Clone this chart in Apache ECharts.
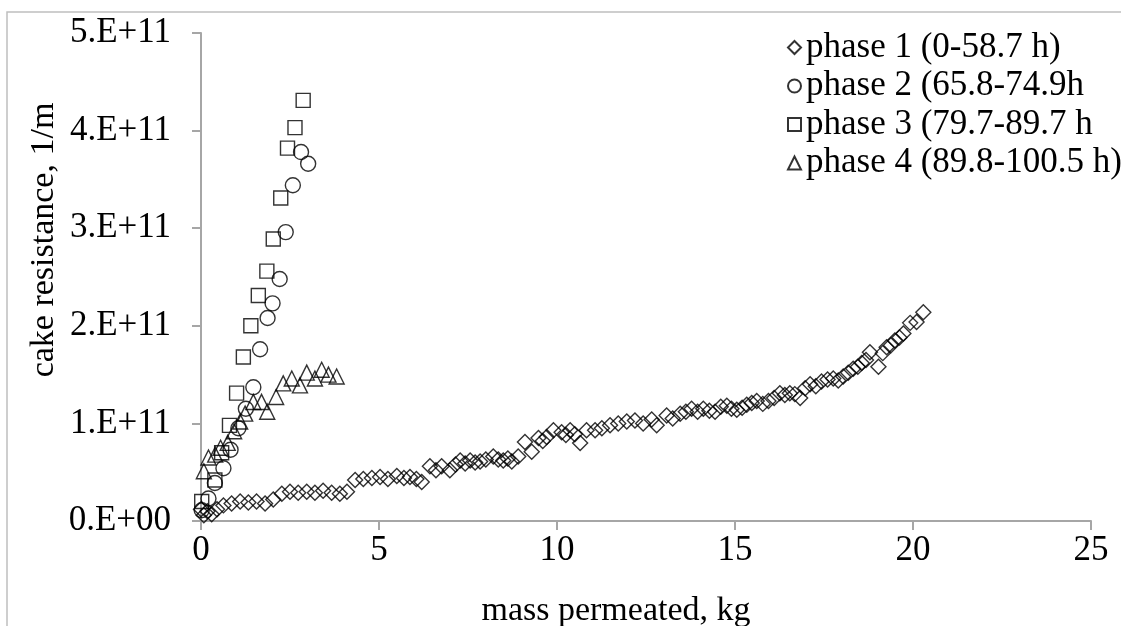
<!DOCTYPE html>
<html>
<head>
<meta charset="utf-8">
<script src="https://cdn.jsdelivr.net/npm/echarts@6/dist/echarts.min.js"></script>
<style>
html,body{margin:0;padding:0;background:#fff;}
#chart{width:1121px;height:626px;}
</style>
</head>
<body>
<div id="chart"></div>
<script>
// Series names
const seriesNames = ['phase 1 (0-58.7 h)', 'phase 2 (65.8-74.9h', 'phase 3 (79.7-89.7 h', 'phase 4 (89.8-100.5 h)'];

// Phase 1 (diamonds): mass permeated (kg)
const phase1X = [0.00,0.08,0.18,0.30,0.45,0.63,0.86,1.10,1.33,1.56,1.80,2.03,2.27,2.50,2.73,2.97,3.20,3.43,3.67,3.90,4.10,4.33,4.56,4.80,5.03,5.25,5.50,5.70,5.87,6.05,6.20,6.43,6.60,6.76,6.99,7.15,7.28,7.42,7.56,7.70,7.84,8.00,8.21,8.35,8.49,8.62,8.73,8.91,9.10,9.29,9.48,9.60,9.71,9.90,10.13,10.25,10.37,10.50,10.65,10.83,11.07,11.26,11.49,11.72,11.96,12.19,12.42,12.66,12.80,13.08,13.25,13.46,13.62,13.78,13.95,14.11,14.28,14.44,14.60,14.77,14.90,15.05,15.20,15.33,15.47,15.61,15.78,15.94,16.10,16.26,16.40,16.54,16.68,16.83,16.97,17.11,17.27,17.43,17.60,17.76,17.90,18.04,18.18,18.32,18.45,18.56,18.68,18.79,19.03,19.15,19.26,19.38,19.49,19.62,19.73,19.92,20.10,20.29];
// Phase 1 cake resistance (units of 1E11 1/m)
const phase1Y = [0.12,0.06,0.10,0.07,0.12,0.16,0.18,0.20,0.19,0.20,0.18,0.22,0.28,0.30,0.29,0.30,0.29,0.31,0.29,0.28,0.30,0.42,0.43,0.44,0.45,0.43,0.46,0.44,0.45,0.43,0.40,0.56,0.52,0.56,0.52,0.58,0.62,0.59,0.62,0.60,0.61,0.63,0.66,0.63,0.62,0.64,0.61,0.66,0.81,0.71,0.85,0.82,0.86,0.93,0.91,0.88,0.93,0.89,0.80,0.93,0.93,0.95,0.98,1.00,1.02,1.03,1.00,1.04,0.98,1.08,1.05,1.10,1.12,1.15,1.12,1.15,1.13,1.12,1.17,1.18,1.15,1.14,1.16,1.19,1.21,1.23,1.20,1.23,1.26,1.31,1.29,1.31,1.30,1.26,1.36,1.40,1.38,1.43,1.45,1.46,1.44,1.48,1.52,1.56,1.58,1.62,1.65,1.73,1.58,1.72,1.78,1.80,1.85,1.88,1.92,2.03,2.04,2.14];

// Phase 2 (circles)
const phase2X = [0.02,0.21,0.39,0.63,0.83,1.05,1.26,1.47,1.66,1.87,2.01,2.21,2.38,2.58,2.81,3.01];
const phase2Y = [0.11,0.23,0.39,0.54,0.73,0.95,1.15,1.37,1.76,2.08,2.23,2.48,2.96,3.44,3.78,3.66];

// Phase 3 (squares)
const phase3X = [0.02,0.39,0.58,0.80,1.00,1.19,1.40,1.61,1.85,2.03,2.24,2.43,2.64,2.87];
const phase3Y = [0.20,0.42,0.70,0.98,1.31,1.68,2.00,2.31,2.56,2.89,3.31,3.82,4.03,4.31];

// Phase 4 (triangles)
const phase4X = [0.08,0.21,0.40,0.55,0.75,0.93,1.10,1.24,1.47,1.70,1.86,2.11,2.31,2.55,2.78,2.97,3.20,3.39,3.58,3.81];
const phase4Y = [0.51,0.65,0.68,0.75,0.80,0.92,1.02,1.10,1.22,1.22,1.12,1.27,1.41,1.46,1.39,1.52,1.46,1.55,1.50,1.48];

// Tick labels
const xTickLabels = ['0','5','10','15','20','25'];
const yTickLabels = ['0.E+00','1.E+11','2.E+11','3.E+11','4.E+11','5.E+11'];
const xTitle = 'mass permeated, kg';
const yTitle = 'cake resistance, 1/m';

const SCALE = 1e11;
function pairs(xs, ys) { return xs.map((x, i) => [x, ys[i] * SCALE]); }

const FONT = 'Liberation Serif';
const axisColor = '#a6a6a6';
const markStyle = { color: 'rgba(0,0,0,0)', borderColor: '#000', borderWidth: 1.4 };

const chart = echarts.init(document.getElementById('chart'), null, { renderer: 'canvas' });
chart.setOption({
  animation: false,
  backgroundColor: '#fff',
  grid: { left: 201, right: 30, top: 33, bottom: 105, containLabel: false },
  xAxis: {
    type: 'value', min: 0, max: 25, interval: 5,
    axisLine: { show: true, lineStyle: { color: axisColor, width: 2 } },
    axisTick: { show: true, inside: false, length: 9, lineStyle: { color: axisColor, width: 2 } },
    splitLine: { show: false },
    axisLabel: {
      margin: 12, color: '#000', fontFamily: FONT, fontSize: 35,
      formatter: (v) => xTickLabels[Math.round(v / 5)]
    }
  },
  yAxis: {
    type: 'value', min: 0, max: 5 * SCALE, interval: SCALE,
    axisLine: { show: true, lineStyle: { color: axisColor, width: 2 } },
    axisTick: { show: true, inside: false, length: 9, lineStyle: { color: axisColor, width: 2 } },
    splitLine: { show: false },
    axisLabel: {
      margin: 30, color: '#000', fontFamily: FONT, fontSize: 35,
      formatter: (v) => yTickLabels[Math.round(v / SCALE)]
    }
  },
  legend: {
    orient: 'vertical', left: 782, top: 25,
    itemWidth: 13, itemHeight: 13, itemGap: 3.5,
    textStyle: { color: '#000', fontFamily: FONT, fontSize: 35, lineHeight: 35 },
    data: seriesNames
  },
  graphic: [
    { type: 'rect', silent: true, shape: { x: 7, y: 12, width: 1300, height: 800 },
      style: { fill: 'none', stroke: '#bfbfbf', lineWidth: 1.5 }, z: 0 },
    { type: 'text', x: 44, y: 240, rotation: Math.PI / 2,
      style: { text: yTitle, fontFamily: FONT, fontSize: 34, fill: '#000', align: 'center', verticalAlign: 'middle' } },
    { type: 'text', x: 616, y: 611,
      style: { text: xTitle, fontFamily: FONT, fontSize: 34, fill: '#000', align: 'center', verticalAlign: 'middle' } }
  ],
  series: [
    { name: seriesNames[0], type: 'scatter', symbol: 'diamond', symbolSize: 15, itemStyle: markStyle, data: pairs(phase1X, phase1Y) },
    { name: seriesNames[1], type: 'scatter', symbol: 'circle', symbolSize: 15, itemStyle: markStyle, data: pairs(phase2X, phase2Y) },
    { name: seriesNames[2], type: 'scatter', symbol: 'rect', symbolSize: 14, itemStyle: markStyle, data: pairs(phase3X, phase3Y) },
    { name: seriesNames[3], type: 'scatter', symbol: 'triangle', symbolSize: 15, itemStyle: markStyle, data: pairs(phase4X, phase4Y) }
  ]
});
</script>
</body>
</html>
